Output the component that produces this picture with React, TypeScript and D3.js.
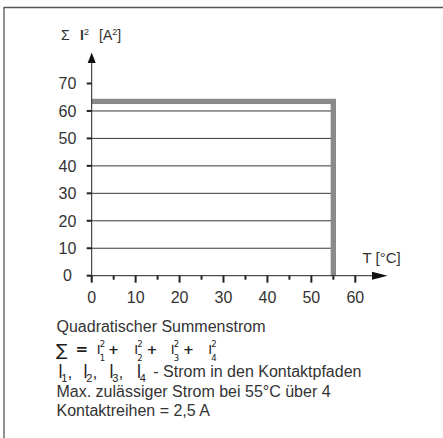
import React from 'react';
import * as d3 from 'd3';

// values
const yTicks = [0, 10, 20, 30, 40, 50, 60, 70];
const xTicks = [0, 10, 20, 30, 40, 50, 60];
const xMinorTicks = [5, 15, 25, 35, 45, 55];
const gridValues = [10, 20, 30, 40, 50, 60];
const limitTemp = 55; // °C
const limitSum = 63.5; // A²

const noteLines = [
  'Max. zulässiger Strom bei 55°C über 4',
  'Kontaktreihen = 2,5 A',
];

const W = 443;
const H = 438;
const font = '"Liberation Sans", Arial, Helvetica, sans-serif';
const ink = '#333';

const App = () => {
  const x = d3.scaleLinear().domain([0, 60]).range([91.7, 355.3]);
  const y = d3.scaleLinear().domain([0, 70]).range([275.7, 83.5]);

  const limitPath = d3.line<[number, number]>()
    .x(d => x(d[0]))
    .y(d => y(d[1]))([
      [0, limitSum],
      [limitTemp, limitSum],
      [limitTemp, 0],
    ]);

  const x0 = x(0);
  const yAxisBottom = y(0);

  // formula pieces: I with stacked super/subscript
  const formulaI = [
    { x: 96.7, sub: '1' },
    { x: 134.3, sub: '2' },
    { x: 170.7, sub: '3' },
    { x: 208.3, sub: '4' },
  ];
  const plusX = [108, 146.5, 183];
  const listI = [
    { x: 58.3, sub: '1', comma: true },
    { x: 83.3, sub: '2', comma: true },
    { x: 109.3, sub: '3', comma: true },
    { x: 136.7, sub: '4', comma: false },
  ];

  return (
    <div style={{ position: 'absolute', left: 0, top: 0 }}>
      <svg width={W} height={H} style={{ display: 'block', background: '#fff' }}>
        {/* frame */}
        <line x1={4} y1={7.5} x2={W} y2={7.5} stroke="#555" strokeWidth={1.3} />
        <line x1={4} y1={7} x2={4} y2={H} stroke="#555" strokeWidth={1.3} />

        {/* grid lines */}
        {gridValues.map(v => (
          <line key={v} x1={x0} x2={x(limitTemp)} y1={y(v)} y2={y(v)}
            stroke="#222" strokeWidth={0.9} />
        ))}

        {/* limit curve */}
        <path d={limitPath || ''} fill="none" stroke="#8a8a8a" strokeWidth={5.3}
          strokeLinejoin="miter" />

        {/* y axis */}
        <line x1={x0} x2={x0} y1={yAxisBottom + 3} y2={62} stroke="#222" strokeWidth={1} />
        <path d={`M${x0},52.5 L${x0 - 4},63 L${x0 + 4},63 Z`} fill="#111" />
        {yTicks.map(v => (
          <g key={v}>
            <line x1={x0 - 5} x2={x0} y1={y(v)} y2={y(v)} stroke="#222" strokeWidth={2} />
            <text x={67.5} y={y(v)} dy="0.36em" textAnchor="middle" fontFamily={font}
              fontSize={16} fill={ink}>{v}</text>
          </g>
        ))}

        {/* x axis */}
        <line x1={x0} x2={373} y1={yAxisBottom} y2={yAxisBottom} stroke="#222" strokeWidth={1} />
        <path d={`M387.5,${yAxisBottom} L372,${yAxisBottom - 4} L372,${yAxisBottom + 4} Z`} fill="#111" />
        {xTicks.map(v => (
          <g key={v}>
            <line x1={x(v)} x2={x(v)} y1={yAxisBottom} y2={yAxisBottom + 7} stroke="#222" strokeWidth={2} />
            <text x={x(v)} y={303.3} textAnchor="middle" fontFamily={font}
              fontSize={16} fill={ink}>{v}</text>
          </g>
        ))}
        {xMinorTicks.map(v => (
          <line key={v} x1={x(v)} x2={x(v)} y1={yAxisBottom} y2={yAxisBottom + 4}
            stroke="#222" strokeWidth={2} />
        ))}

        {/* axis titles */}
        <text x={61} y={40} fontFamily={font} fontSize={14} fill={ink}>
          <tspan>Σ</tspan>
          <tspan x={80} fontWeight="bold">I</tspan>
          <tspan dy={-5} fontSize={9}>2</tspan>
          <tspan x={99} dy={5}>[A</tspan>
          <tspan dy={-5} fontSize={9}>2</tspan>
          <tspan dy={5}>]</tspan>
        </text>
        <text x={362.5} y={263} fontFamily={font} fontSize={15} fill={ink}>T [°C]</text>

        {/* notes */}
        <text x={56.5} y={332.3} fontFamily={font} fontSize={16} fill={ink}>
          Quadratischer Summenstrom
        </text>

        {/* formula line */}
        <text x={56} y={355.5} fontFamily='"DejaVu Sans", sans-serif' fontSize={17} fill="#222">∑</text>
        <text x={75.5} y={353.5} fontFamily='"DejaVu Sans", sans-serif' fontSize={15}
          fontWeight="bold" fill="#222">=</text>
        {formulaI.map(f => (
          <g key={f.sub} fontFamily='"DejaVu Sans", sans-serif' fill="#222">
            <text x={f.x} y={354.3} fontSize={13}>I</text>
            <text x={f.x + 3} y={347} fontSize={8.5}>2</text>
            <text x={f.x + 3} y={360.5} fontSize={8.5}>{f.sub}</text>
          </g>
        ))}
        {plusX.map(px => (
          <text key={px} x={px} y={354} fontFamily='"DejaVu Sans", sans-serif' fontSize={13}
            fontWeight="bold" fill="#222">+</text>
        ))}

        {/* I1..I4 line */}
        {listI.map(f => (
          <g key={f.sub} fontFamily={font} fill="#222">
            <text x={f.x} y={378} fontSize={20} transform={`translate(${f.x},0) scale(0.8,1) translate(${-f.x},0)`}>I</text>
            <text x={f.x + 3} y={382} fontSize={11}>{f.sub}</text>
            {f.comma && <text x={f.x + 9.5} y={378} fontSize={16}>,</text>}
          </g>
        ))}
        <text x={153.3} y={377.3} fontFamily={font} fontSize={16} fill={ink}>
          - Strom in den Kontaktpfaden
        </text>

        {noteLines.map((t, i) => (
          <text key={t} x={56.5} y={397.3 + i * 19} fontFamily={font} fontSize={16} fill={ink}>
            {t}
          </text>
        ))}
      </svg>
    </div>
  );
};

export default App;
